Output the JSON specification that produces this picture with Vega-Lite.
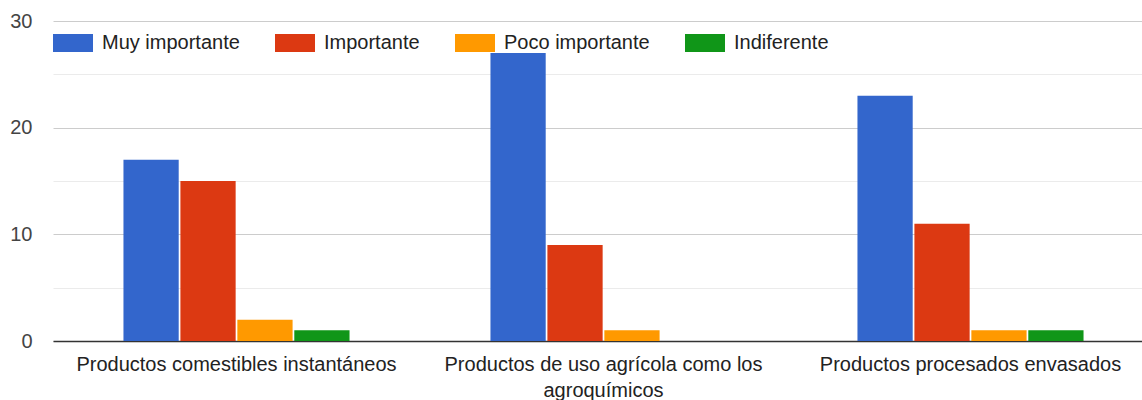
{
  "$schema": "https://vega.github.io/schema/vega-lite/v6.json",
  "width": 1089,
  "height": 320,
  "autosize": {"type": "none"},
  "padding": {"left": 53, "top": 21, "right": 0, "bottom": 59},
  "background": "white",
  "data": {
    "values": [
      {"producto": "Productos comestibles instantáneos", "nivel": "Muy importante", "n": 17},
      {"producto": "Productos comestibles instantáneos", "nivel": "Importante", "n": 15},
      {"producto": "Productos comestibles instantáneos", "nivel": "Poco importante", "n": 2},
      {"producto": "Productos comestibles instantáneos", "nivel": "Indiferente", "n": 1},
      {"producto": "Productos de uso agrícola como los agroquímicos", "nivel": "Muy importante", "n": 27},
      {"producto": "Productos de uso agrícola como los agroquímicos", "nivel": "Importante", "n": 9},
      {"producto": "Productos de uso agrícola como los agroquímicos", "nivel": "Poco importante", "n": 1},
      {"producto": "Productos de uso agrícola como los agroquímicos", "nivel": "Indiferente", "n": 0},
      {"producto": "Productos procesados envasados", "nivel": "Muy importante", "n": 23},
      {"producto": "Productos procesados envasados", "nivel": "Importante", "n": 11},
      {"producto": "Productos procesados envasados", "nivel": "Poco importante", "n": 1},
      {"producto": "Productos procesados envasados", "nivel": "Indiferente", "n": 1}
    ]
  },
  "config": {
    "view": {"stroke": null},
    "font": "Liberation Sans"
  },
  "mark": {"type": "bar"},
  "encoding": {
    "x": {
      "field": "producto",
      "type": "nominal",
      "sort": null,
      "title": null,
      "scale": {"range": [0, 1101], "paddingInner": 0.384, "paddingOuter": 0.192},
      "axis": {
        "labelAngle": 0,
        "ticks": false,
        "tickSize": 0,
        "labelPadding": 13,
        "labelFontSize": 20,
        "labelColor": "#222222",
        "labelLimit": 500,
        "labelLineHeight": 26,
        "labelExpr": "datum.label == 'Productos de uso agrícola como los agroquímicos' ? ['Productos de uso agrícola como los', 'agroquímicos'] : datum.label",
        "domainColor": "#333333",
        "domainWidth": 1.5,
        "grid": false
      }
    },
    "xOffset": {
      "field": "nivel",
      "type": "nominal",
      "sort": ["Muy importante", "Importante", "Poco importante", "Indiferente"],
      "scale": {"paddingInner": 0.03}
    },
    "y": {
      "field": "n",
      "type": "quantitative",
      "title": null,
      "scale": {"domain": [0, 30], "nice": false},
      "axis": {
        "values": [0, 5, 10, 15, 20, 25, 30],
        "labelExpr": "datum.value % 10 === 0 ? datum.label : ''",
        "domain": false,
        "ticks": false,
        "tickSize": 0,
        "labelPadding": 21,
        "labelFontSize": 20,
        "labelColor": "#444444",
        "gridColor": {"condition": {"test": "datum.value % 10 === 0", "value": "#cccccc"}, "value": "#ebebeb"},
        "gridWidth": 1
      }
    },
    "color": {
      "field": "nivel",
      "type": "nominal",
      "scale": {
        "domain": ["Muy importante", "Importante", "Poco importante", "Indiferente"],
        "range": ["#3366cc", "#dc3912", "#ff9900", "#109618"]
      },
      "legend": {
        "title": null,
        "orient": "none",
        "direction": "horizontal",
        "legendX": 0,
        "legendY": 2,
        "padding": 0,
        "symbolType": "M-1,-0.45H1V0.45H-1Z",
        "symbolSize": 1600,
        "symbolOpacity": 1,
        "symbolStrokeWidth": 0,
        "labelFontSize": 20,
        "labelColor": "#222222",
        "labelOffset": 9,
        "labelLimit": 300,
        "labelBaseline": "middle",
        "columnPadding": 35
      }
    }
  }
}
